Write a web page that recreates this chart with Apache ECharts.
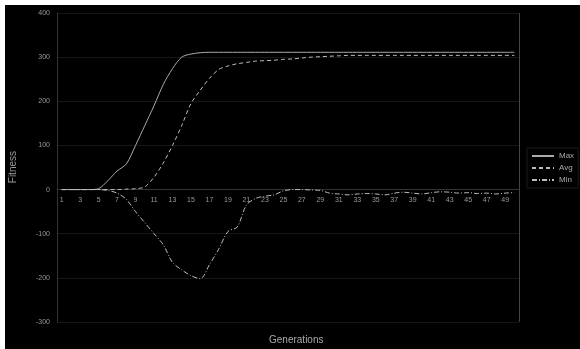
<!DOCTYPE html>
<html>
<head>
<meta charset="utf-8">
<script src="https://cdn.jsdelivr.net/npm/echarts@6/dist/echarts.min.js"></script>
<style>
  html, body { margin: 0; padding: 0; background: #fff; }
  #chart { position: absolute; left: 5px; top: 5px; width: 575px; height: 344px; background: #000; }
</style>
</head>
<body>
<div id="chart"></div>
<script>
// generations 1..50
const generations = Array.from({ length: 50 }, (_, i) => String(i + 1));

const maxFitness = [
  0, 0, 0, 0, 2, 20, 42, 58, 100, 145,
  190, 238, 274, 300, 307, 310, 311, 311, 311, 311,
  311, 311, 311, 311, 311, 311, 311, 311, 311, 311,
  311, 311, 311, 311, 311, 311, 311, 311, 311, 311,
  311, 311, 311, 311, 311, 311, 311, 311, 311, 311,
];

const avgFitness = [
  0, 0, 0, 0, 0, 0, 0, 1, 2, 6,
  28, 60, 100, 145, 195, 225, 252, 272, 280, 285,
  288, 291, 292, 293, 295, 296, 298, 300, 301, 302,
  303, 304, 304, 304, 304, 304, 304, 304, 304, 304,
  304, 304, 304, 304, 304, 304, 304, 304, 304, 304,
];

const minFitness = [
  0, 0, 0, 0, 0, -2, -8, -22, -50, -75,
  -100, -125, -165, -182, -195, -202, -170, -135, -95, -85,
  -35, -20, -15, -12, -3, 0, 0, -1, -2, -8,
  -10, -12, -10, -9, -10, -12, -8, -6, -8, -10,
  -7, -5, -6, -8, -7, -9, -8, -10, -8, -7,
];

const yTicks = { min: -300, max: 400, step: 100 };

const chart = echarts.init(document.getElementById("chart"));

const font = "Liberation Sans, Arial, sans-serif";

chart.setOption({
  backgroundColor: "#000",
  animation: false,
  textStyle: { fontFamily: font },
  grid: { left: 52, right: 61, top: 8, bottom: 27 },
  legend: {
    orient: "vertical",
    left: 522,
    top: 143,
    itemWidth: 22,
    itemHeight: 8,
    itemGap: 4,
    padding: [4, 4, 4, 4],
    borderColor: "#1a1a1a",
    borderWidth: 1,
    itemStyle: { opacity: 0 },
    textStyle: { color: "#aaa", fontSize: 8 },
    data: ["Max", "Avg", "Min"],
  },
  graphic: [
    {
      type: "text",
      left: 3,
      top: 146,
      rotation: Math.PI / 2,
      style: { text: "Fitness", fill: "#999", font: "10px " + font },
    },
    {
      type: "text",
      left: 264,
      top: 330,
      style: { text: "Generations", fill: "#aaa", font: "10px " + font },
    },
    {
      type: "line",
      shape: { x1: 52, y1: 317.5, x2: 514, y2: 317.5 },
      style: { stroke: "#555", lineWidth: 1 },
    },
    {
      type: "line",
      shape: { x1: 514.5, y1: 8, x2: 514.5, y2: 317 },
      style: { stroke: "#444", lineWidth: 1 },
    },
  ],
  xAxis: {
    type: "category",
    data: generations,
    boundaryGap: true,
    position: "bottom",
    offset: -133,
    axisLine: { onZero: false, lineStyle: { color: "#333" } },
    axisTick: { show: false },
    axisLabel: { color: "#999", fontSize: 7, interval: 1, margin: 8 },
    splitLine: { show: false },
  },
  yAxis: {
    type: "value",
    min: yTicks.min,
    max: yTicks.max,
    interval: yTicks.step,
    axisLine: { show: true, lineStyle: { color: "#333" } },
    axisTick: { show: false },
    axisLabel: { color: "#999", fontSize: 7, margin: 7 },
    splitLine: { show: true, lineStyle: { color: "#161616" } },
  },
  series: [
    {
      name: "Max",
      type: "line",
      data: maxFitness,
      symbol: "none",
      smooth: 0.3,
      lineStyle: { color: "#aaa", width: 1 },
      itemStyle: { color: "#aaa" },
    },
    {
      name: "Avg",
      type: "line",
      data: avgFitness,
      symbol: "none",
      smooth: 0.3,
      lineStyle: { color: "#bbb", width: 1, type: [4, 3] },
      itemStyle: { color: "#bbb" },
    },
    {
      name: "Min",
      type: "line",
      data: minFitness,
      symbol: "none",
      smooth: 0.3,
      lineStyle: { color: "#bbb", width: 1, type: [5, 2, 1, 2] },
      itemStyle: { color: "#bbb" },
    },
  ],
});
</script>
</body>
</html>
